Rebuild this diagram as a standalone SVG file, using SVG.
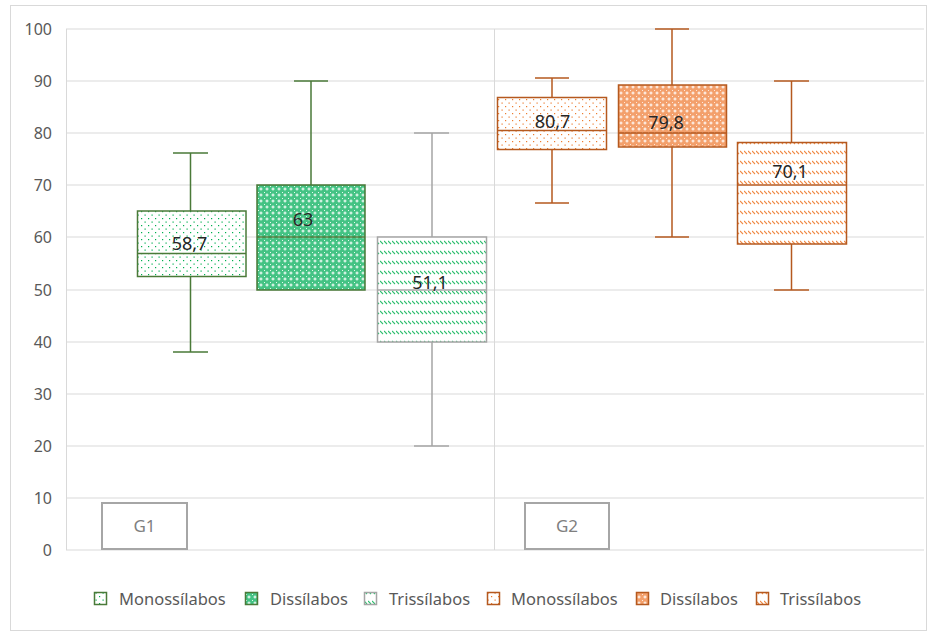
<svg xmlns="http://www.w3.org/2000/svg" width="928" height="632" viewBox="0 0 928 632">
<style>
.grid{stroke:#d9d9d9;stroke-width:1;fill:none}
.ax{font-family:"Noto Sans","Liberation Sans",sans-serif;font-size:16px;fill:#595959;text-anchor:end}
.lg{font-family:"Noto Sans","Liberation Sans",sans-serif;font-size:16.5px;fill:#595959}
.dl{font-family:"Noto Sans","Liberation Sans",sans-serif;font-size:18px;fill:#262626;text-anchor:middle}
.gl{font-family:"Noto Sans","Liberation Sans",sans-serif;font-size:17px;fill:#7f7f7f;text-anchor:middle}
.grp{fill:#fff;stroke:#a6a6a6;stroke-width:2}
.gs{stroke:#4a7a38;stroke-width:1.5}
.gy{stroke:#a5a5a5;stroke-width:1.5}
.os{stroke:#b5591f;stroke-width:1.5}
</style>
<defs>
<pattern id="gDot" width="7" height="7" patternUnits="userSpaceOnUse">
<rect width="7" height="7" fill="#fff"/>
<rect x="1" y="1" width="1.2" height="1.2" fill="#00b050"/>
<rect x="4.5" y="4.5" width="1.2" height="1.2" fill="#00b050"/>
</pattern>
<pattern id="gDen" width="6" height="6" patternUnits="userSpaceOnUse">
<rect width="6" height="6" fill="#44c384"/>
<rect x="2.5" y="1.5" width="1" height="3" fill="#fff"/>
<rect x="1.5" y="2.5" width="3" height="1" fill="#fff"/>
<rect x="0" y="0" width="1" height="1" fill="#e6f8ed"/>
</pattern>
<pattern id="gDia" width="4" height="10" patternUnits="userSpaceOnUse">
<rect width="4" height="10" fill="#fff"/>
<path d="M0,1 L3,4" stroke="#2fbf6f" stroke-width="1.1"/>
</pattern>
<pattern id="oDot" width="7" height="7" patternUnits="userSpaceOnUse">
<rect width="7" height="7" fill="#fff"/>
<rect x="1" y="1" width="1.2" height="1.2" fill="#ed7d31"/>
<rect x="4.5" y="4.5" width="1.2" height="1.2" fill="#ed7d31"/>
</pattern>
<pattern id="oDen" width="6" height="6" patternUnits="userSpaceOnUse">
<rect width="6" height="6" fill="#f3a06c"/>
<rect x="2.5" y="1.5" width="1" height="3" fill="#fff"/>
<rect x="1.5" y="2.5" width="3" height="1" fill="#fff"/>
<rect x="0" y="0" width="1" height="1" fill="#fde8da"/>
</pattern>
<pattern id="oDia" width="4" height="10" patternUnits="userSpaceOnUse">
<rect width="4" height="10" fill="#fff"/>
<path d="M0,1 L3,4" stroke="#f08a45" stroke-width="1.1"/>
</pattern>
</defs>
<rect x="10.5" y="5.5" width="916" height="625" fill="#fff" stroke="#d9d9d9"/>
<g id="grid">
<path class="grid" d="M66,29H924M66,81H924M66,133H924M66,185H924M66,237H924M66,290H924M66,342H924M66,394H924M66,446H924M66,498H924M66,550H924M66.5,29V550M494.5,29V550"/>
</g>
<g id="axis">
<text class="ax" x="52" y="35">100</text>
<text class="ax" x="52" y="87">90</text>
<text class="ax" x="52" y="139">80</text>
<text class="ax" x="52" y="191">70</text>
<text class="ax" x="52" y="243">60</text>
<text class="ax" x="52" y="296">50</text>
<text class="ax" x="52" y="348">40</text>
<text class="ax" x="52" y="400">30</text>
<text class="ax" x="52" y="452">20</text>
<text class="ax" x="52" y="504">10</text>
<text class="ax" x="52" y="556">0</text>
</g>
<g id="connectors" fill="none">
<path class="gs" d="M190.5,153V211M190.5,276V352M173,153H208M173,352H208"/>
<path class="gs" d="M311,81V185M294,81H328"/>
<path class="gy" d="M432,133V237M432,342V446M414,133H449M414,446H449"/>
<path class="os" d="M552,78V97M552,149V203M535,78H569M535,203H569"/>
<path class="os" d="M672,29V85M672,147V237M655,29H689M655,237H689"/>
<path class="os" d="M791.5,81V142M791.5,244V290M774,81H809M774,290H809"/>
</g>
<g id="g1-mono">
<rect x="137.5" y="211" width="108.5" height="65.5" fill="url(#gDot)" class="gs"/>
<path class="gs" fill="none" d="M137.5,253.5H246"/>
<text class="dl" x="189.5" y="250">58,7</text>
</g>
<g id="g1-dis">
<rect x="257" y="185" width="108" height="105" fill="url(#gDen)" class="gs"/>
<path class="gs" fill="none" d="M257,237H365"/>
<text class="dl" x="303" y="225.5">63</text>
</g>
<g id="g1-tri">
<rect x="377.5" y="237" width="109" height="105" fill="url(#gDia)" class="gy"/>
<path class="gy" fill="none" d="M377.5,290H486.5"/>
<text class="dl" x="430" y="288.5">51,1</text>
</g>
<g id="g2-mono">
<rect x="497.5" y="97.5" width="109" height="52" fill="url(#oDot)" class="os"/>
<path class="os" fill="none" d="M497.5,130.5H606.5"/>
<text class="dl" x="552.5" y="128">80,7</text>
</g>
<g id="g2-dis">
<rect x="618.5" y="85" width="108" height="62" fill="url(#oDen)" class="os"/>
<path class="os" fill="none" d="M618.5,133H726.5"/>
<text class="dl" x="666" y="129">79,8</text>
</g>
<g id="g2-tri">
<rect x="737.5" y="142.5" width="109" height="101.5" fill="url(#oDia)" class="os"/>
<path class="os" fill="none" d="M737.5,185H846.5"/>
<text class="dl" x="790" y="177.5">70,1</text>
</g>
<g id="label-g1">
<rect class="grp" x="102" y="503" width="85" height="46"/>
<text class="gl" x="144.5" y="532">G1</text>
</g>
<g id="label-g2">
<rect class="grp" x="525" y="503" width="84" height="46"/>
<text class="gl" x="567" y="532">G2</text>
</g>
<g id="legend">
<rect x="94.5" y="592.5" width="12" height="12" fill="url(#gDot)" class="gs"/>
<text class="lg" x="119" y="605">Monossílabos</text>
<rect x="245.5" y="592.5" width="12" height="12" fill="url(#gDen)" class="gs"/>
<text class="lg" x="270" y="605">Dissílabos</text>
<rect x="364.5" y="592.5" width="12" height="12" fill="url(#gDia)" class="gy"/>
<text class="lg" x="389" y="605">Trissílabos</text>
<rect x="487.5" y="592.5" width="12" height="12" fill="url(#oDot)" class="os"/>
<text class="lg" x="511" y="605">Monossílabos</text>
<rect x="636.5" y="592.5" width="12" height="12" fill="url(#oDen)" class="os"/>
<text class="lg" x="660" y="605">Dissílabos</text>
<rect x="756.5" y="592.5" width="12" height="12" fill="url(#oDia)" class="os"/>
<text class="lg" x="780" y="605">Trissílabos</text>
</g>
</svg>
